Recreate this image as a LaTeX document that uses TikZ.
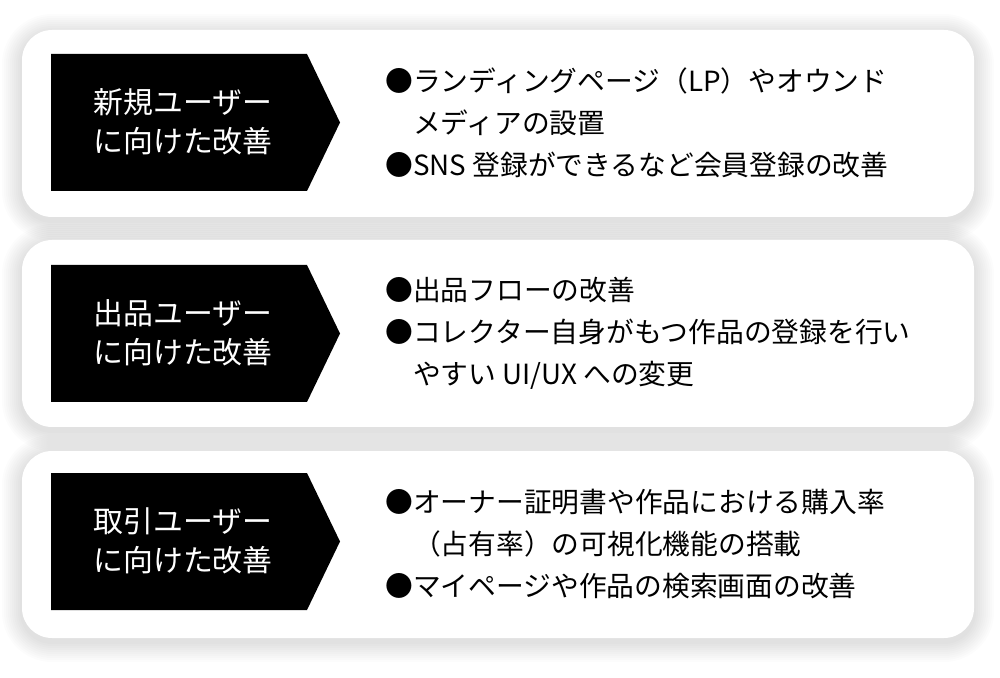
\documentclass[tikz,border=0pt]{standalone}
\usepackage{fontspec}
\setmainfont{Noto Sans CJK JP}
\begin{document}
\begin{tikzpicture}[x=0.02cm, y=-0.02cm,
    card/.style={fill=white, rounded corners=0.6cm},
    tag/.style={fill=black},
    taglabel/.style={text=white, font=\fontsize{17}{22.5}\selectfont, align=center, inner sep=0pt},
    itemtext/.style={font=\fontsize{15.8}{24}\selectfont, align=left, anchor=west, inner sep=0pt}]
    % Canvas
    \useasboundingbox[fill=white] (0,0) rectangle (1000,678);
    % Soft shadows under the cards
    \foreach \top in {30,240,451}
        \foreach \s in {1,...,10}
            \fill[black, opacity=0.01, rounded corners={0.6cm+\s*0.04cm}]
                (22-2*\s,\top-2*\s+4) rectangle (974+2*\s,\top+187+2*\s+4);
    % White cards
    \foreach \top in {30,240,451}
        \fill[card] (22,\top) rectangle (974,\top+187);
    % Black arrow tags
    \foreach \top in {54,265,473}
        \fill[tag] (51,\top) -- (307,\top) -- (340,\top+68.5) -- (307,\top+137) -- (51,\top+137) -- cycle;
    % Tag labels
    \node[taglabel] (newtag) at (183,122) {新規ユーザー\\に向けた改善};
    \node[taglabel] (selltag) at (183,333) {出品ユーザー\\に向けた改善};
    \node[taglabel] (tradetag) at (183,541) {取引ユーザー\\に向けた改善};
    % Bullet items
    \node[itemtext] (newitems) at (385,123) {●ランディングページ（LP）やオウンド\\\phantom{●}メディアの設置\\●SNS 登録ができるなど会員登録の改善};
    \node[itemtext] (sellitems) at (385,333) {●出品フローの改善\\●コレクター自身がもつ作品の登録を行い\\\phantom{●}やすい UI/UX への変更};
    \node[itemtext] (tradeitems) at (385,544) {●オーナー証明書や作品における購入率\\\phantom{●}（占有率）の可視化機能の搭載\\●マイページや作品の検索画面の改善};
\end{tikzpicture}
\end{document}
